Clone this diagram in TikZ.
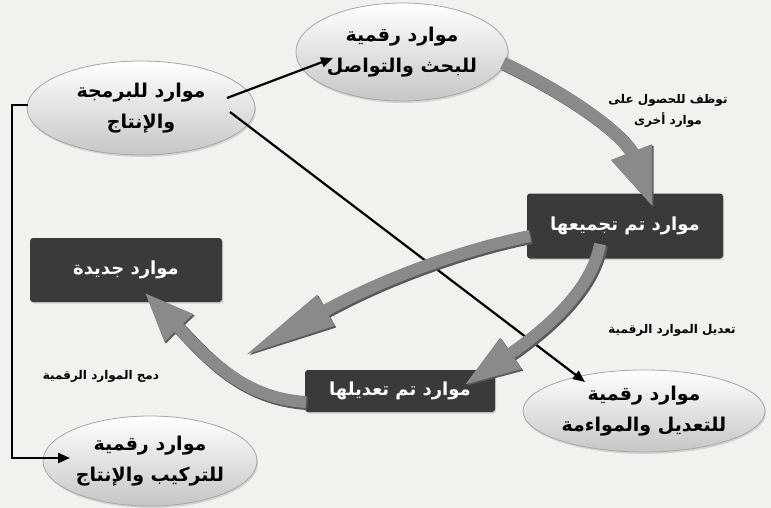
\documentclass[tikz,border=0pt]{standalone}
\usepackage{fontspec}
\newfontfamily\arabicfont[Script=Arabic]{DejaVu Sans}
\TeXXeTstate=1
\usetikzlibrary{arrows.meta,shapes.geometric,shadows}
\newcommand{\AR}[1]{\beginR #1\endR}
\definecolor{bgc}{HTML}{F1F1EF}
\definecolor{boxc}{HTML}{3A3A3A}
\definecolor{arrc}{HTML}{8A8A8A}
\begin{document}
\begin{tikzpicture}[x=1pt,y=-1pt,
  ell/.style={ellipse, draw=gray!70, line width=0.8pt, top color=white, bottom color=gray!45,
     drop shadow={opacity=0.25, shadow xshift=1pt, shadow yshift=-2pt},
     align=center, font=\arabicfont\bfseries\fontsize{19}{31}\selectfont, inner sep=0pt},
  darkbox/.style={rectangle, rounded corners=3pt, fill=boxc, text=white,
     drop shadow={opacity=0.3, shadow xshift=1pt, shadow yshift=-1.5pt},
     font=\arabicfont\bfseries\fontsize{18}{20}\selectfont},
  lbl/.style={align=center, font=\arabicfont\bfseries\fontsize{12}{21}\selectfont},
  thinarrow/.style={line width=2.2pt, -{Triangle[length=12pt,width=10pt]}},
  bigarrow/.style={line width=13pt, draw=arrc, line cap=butt,
     preaction={draw=black!65, line width=13pt, transform canvas={shift={(1.5pt,-1.5pt)}}}}
]
\fill[bgc] (0,0) rectangle (771,508);
\useasboundingbox (0,0) rectangle (771,508);

% ellipses
\node[ell, minimum width=228pt, minimum height=94pt] (A) at (141,108)
  {\AR{موارد للبرمجة}\\\AR{والإنتاج}};
\node[ell, minimum width=198pt, minimum height=98pt] (B) at (402,52)
  {\AR{موارد رقمية}\\\AR{للبحث والتواصل}};
\node[ell, minimum width=242pt, minimum height=82pt] (D) at (644,411)
  {\AR{موارد رقمية}\\\AR{للتعديل والمواءمة}};
\node[ell, minimum width=214pt, minimum height=90pt] (E) at (150,461)
  {\AR{موارد رقمية}\\\AR{للتركيب والإنتاج}};

% dark boxes
\node[darkbox, minimum width=196pt, minimum height=65pt] (C) at (625,226) {\AR{موارد تم تجميعها}};
\node[darkbox, minimum width=192pt, minimum height=64pt] (N) at (126,270) {\AR{موارد جديدة}};
\node[darkbox, minimum width=190pt, minimum height=42pt] (M) at (400,391) {\AR{موارد تم تعديلها}};

% labels
\node[lbl] (L1) at (668,111) {\AR{توظف للحصول على}\\\AR{موارد أخرى}};
\node[lbl] (L2) at (672,330) {\AR{تعديل الموارد الرقمية}};
\node[lbl] (L3) at (101,376) {\AR{دمج الموارد الرقمية}};

% thin connectors
\coordinate (Bin) at (333,58);
\coordinate (Aout1) at (227,98);
\coordinate (Aout2) at (230,112);
\coordinate (Din) at (585,382);
\coordinate (Eend) at (70,458);
\coordinate (Aw) at (28,105);
\draw[thinarrow] (Aout1) -- (Bin);
\draw[thinarrow] (Aout2) -- (Din);
\draw[thinarrow] (Aw) -- (12,105) |- (Eend);

% big grey arrows
\coordinate (g1s) at (503,63);
\coordinate (g1e) at (653,208);
\coordinate (g2s) at (530,236);
\coordinate (g2e) at (242,357);
\coordinate (g3s) at (600,244);
\coordinate (g3e) at (463,386);
\coordinate (g4s) at (306,402);
\coordinate (g4e) at (144,292);
\draw[bigarrow, -{Triangle[length=60pt,width=40pt]}, preaction={-{Triangle[length=60pt,width=40pt]}}]
  (g1s) .. controls (570,95) and (625,135) .. (g1e);
\draw[bigarrow, line width=12pt, -{Triangle[length=96pt,width=32pt]}, preaction={-{Triangle[length=96pt,width=32pt]}}]
  (g2s) .. controls (460,250) and (380,280) .. (g2e);
\draw[bigarrow, line width=12pt, -{Triangle[length=58pt,width=34pt]}, preaction={-{Triangle[length=58pt,width=34pt]}}]
  (g3s) .. controls (592,290) and (545,330) .. (g3e);
\draw[bigarrow, line width=12pt, -{Triangle[length=50pt,width=36pt]}, preaction={-{Triangle[length=50pt,width=36pt]}}]
  (g4s) .. controls (240,398) and (205,355) .. (g4e);
\end{tikzpicture}
\end{document}
